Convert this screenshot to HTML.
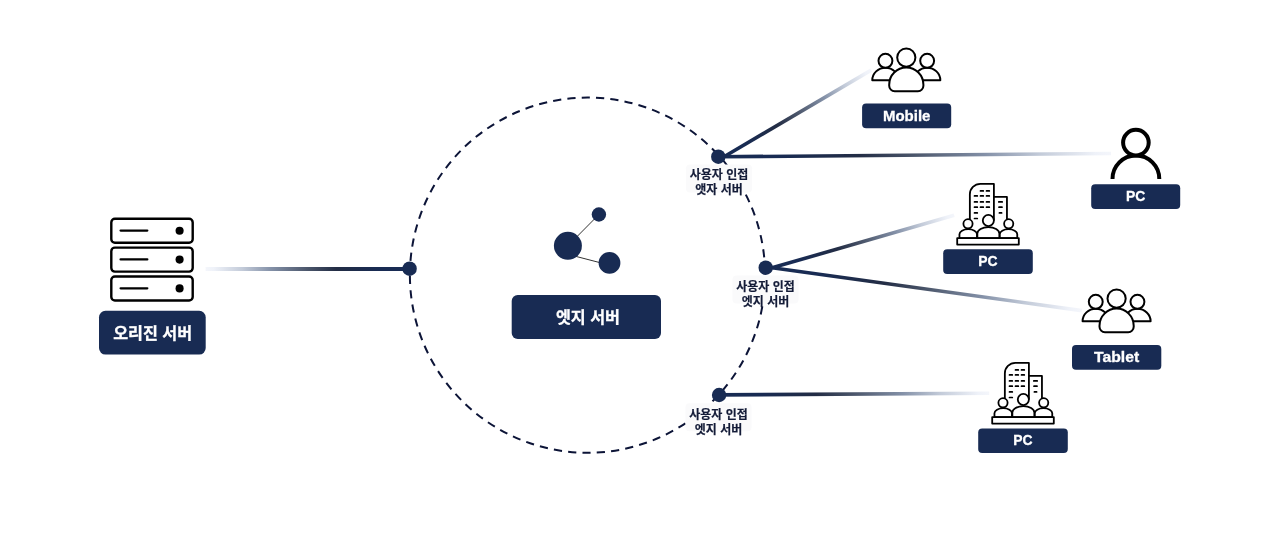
<!DOCTYPE html>
<html lang="ko">
<head>
<meta charset="utf-8">
<title>엣지 서버</title>
<style>
html,body{margin:0;padding:0;background:#fff;}
body{width:1280px;height:542px;overflow:hidden;font-family:"Liberation Sans", "Noto Sans CJK KR", sans-serif;}
svg{display:block;will-change:transform;}
</style>
</head>
<body>
<svg role="img" aria-label="오리진 서버 - 엣지 서버 - 사용자" width="1280" height="542" viewBox="0 0 1280 542" font-family='"Liberation Sans", "Noto Sans CJK KR", sans-serif'>
<defs><linearGradient id="g0" gradientUnits="userSpaceOnUse" x1="409.6" y1="269.0" x2="205.6" y2="269.0"><stop offset="0" stop-color="#182B53"/><stop offset="0.15" stop-color="#182B53"/><stop offset="0.36" stop-color="#232D45"/><stop offset="0.5" stop-color="#4B566B"/><stop offset="0.68" stop-color="#8491A8"/><stop offset="0.82" stop-color="#C3CBD9"/><stop offset="0.96" stop-color="#EFF2F9"/><stop offset="1" stop-color="#F4F6FB"/></linearGradient><linearGradient id="g1" gradientUnits="userSpaceOnUse" x1="724.4" y1="156.5" x2="871.2" y2="70.1"><stop offset="0" stop-color="#182B53"/><stop offset="0.15" stop-color="#182B53"/><stop offset="0.36" stop-color="#232D45"/><stop offset="0.5" stop-color="#4B566B"/><stop offset="0.68" stop-color="#8491A8"/><stop offset="0.82" stop-color="#C3CBD9"/><stop offset="0.96" stop-color="#EFF2F9"/><stop offset="1" stop-color="#F4F6FB"/></linearGradient><linearGradient id="g2" gradientUnits="userSpaceOnUse" x1="718.4" y1="156.8" x2="1111.0" y2="153.5"><stop offset="0" stop-color="#182B53"/><stop offset="0.15" stop-color="#182B53"/><stop offset="0.36" stop-color="#232D45"/><stop offset="0.5" stop-color="#4B566B"/><stop offset="0.68" stop-color="#8491A8"/><stop offset="0.82" stop-color="#C3CBD9"/><stop offset="0.96" stop-color="#EFF2F9"/><stop offset="1" stop-color="#F4F6FB"/></linearGradient><linearGradient id="g3" gradientUnits="userSpaceOnUse" x1="772.1" y1="267.8" x2="954.2" y2="215.3"><stop offset="0" stop-color="#182B53"/><stop offset="0.15" stop-color="#182B53"/><stop offset="0.36" stop-color="#232D45"/><stop offset="0.5" stop-color="#4B566B"/><stop offset="0.68" stop-color="#8491A8"/><stop offset="0.82" stop-color="#C3CBD9"/><stop offset="0.96" stop-color="#EFF2F9"/><stop offset="1" stop-color="#F4F6FB"/></linearGradient><linearGradient id="g4" gradientUnits="userSpaceOnUse" x1="772.1" y1="267.8" x2="1081.8" y2="310.6"><stop offset="0" stop-color="#182B53"/><stop offset="0.15" stop-color="#182B53"/><stop offset="0.36" stop-color="#232D45"/><stop offset="0.5" stop-color="#4B566B"/><stop offset="0.68" stop-color="#8491A8"/><stop offset="0.82" stop-color="#C3CBD9"/><stop offset="0.96" stop-color="#EFF2F9"/><stop offset="1" stop-color="#F4F6FB"/></linearGradient><linearGradient id="g5" gradientUnits="userSpaceOnUse" x1="719.1" y1="394.9" x2="989.2" y2="393.2"><stop offset="0" stop-color="#182B53"/><stop offset="0.15" stop-color="#182B53"/><stop offset="0.36" stop-color="#232D45"/><stop offset="0.5" stop-color="#4B566B"/><stop offset="0.68" stop-color="#8491A8"/><stop offset="0.82" stop-color="#C3CBD9"/><stop offset="0.96" stop-color="#EFF2F9"/><stop offset="1" stop-color="#F4F6FB"/></linearGradient></defs>
<rect width="1280" height="542" fill="#fff"/>
<path d="M409.9 275.15 A177.6 177.6 0 1 1 765.1 275.15 A177.6 177.6 0 1 1 409.9 275.15" fill="none" stroke="#0C1437" stroke-width="2" stroke-dasharray="8.2 6.17"/>
<line x1="409.6" y1="269.0" x2="205.6" y2="269.0" stroke="url(#g0)" stroke-width="3.9"/>
<line x1="724.4" y1="156.5" x2="871.2" y2="70.1" stroke="url(#g1)" stroke-width="3.6"/>
<line x1="718.4" y1="156.8" x2="1111.0" y2="153.5" stroke="url(#g2)" stroke-width="3.6"/>
<line x1="772.1" y1="267.8" x2="954.2" y2="215.3" stroke="url(#g3)" stroke-width="3.6"/>
<line x1="772.1" y1="267.8" x2="1081.8" y2="310.6" stroke="url(#g4)" stroke-width="3.6"/>
<line x1="719.1" y1="394.9" x2="989.2" y2="393.2" stroke="url(#g5)" stroke-width="3.6"/>
<circle cx="409.6" cy="268.7" r="7.2" fill="#182B53"/>
<circle cx="718.3" cy="156.7" r="7.2" fill="#182B53"/>
<circle cx="765.7" cy="267.7" r="7.2" fill="#182B53"/>
<circle cx="719.1" cy="395.0" r="7.2" fill="#182B53"/>
<rect x="686.0" y="164.4" width="66" height="28" rx="4" fill="#FAFAFB"/><text font-size="12" font-weight="700" fill="#141C38" stroke="#141C38" stroke-width="0.2" text-anchor="middle"><tspan x="719.0" y="178.9">사용자 인접</tspan><tspan x="719.0" y="193.9">앳자 서버</tspan></text>
<rect x="732.5" y="275.6" width="66" height="28" rx="4" fill="#FAFAFB"/><text font-size="12" font-weight="700" fill="#141C38" stroke="#141C38" stroke-width="0.2" text-anchor="middle"><tspan x="765.5" y="291.1">사용자 인접</tspan><tspan x="765.5" y="306.1">엣지 서버</tspan></text>
<rect x="685.5" y="403.2" width="66" height="28" rx="4" fill="#FAFAFB"/><text font-size="12" font-weight="700" fill="#141C38" stroke="#141C38" stroke-width="0.2" text-anchor="middle"><tspan x="718.5" y="418.7">사용자 인접</tspan><tspan x="718.5" y="433.7">엣지 서버</tspan></text>
<path d="M567.9 245.8 L598.9 214.5 M574 255.9 L604 263.7" stroke="#333" stroke-width="1" fill="none"/>
<circle cx="598.9" cy="214.5" r="7.2" fill="#182B53"/><circle cx="567.9" cy="245.8" r="14" fill="#182B53"/><circle cx="609.5" cy="262.9" r="10.9" fill="#182B53"/>
<rect x="511.7" y="295" width="149.3" height="44.1" rx="6" fill="#182B53"/><text x="587.95" y="323.0" font-size="16.2" font-weight="700" fill="#fff" stroke="#fff" stroke-width="0.3" text-anchor="middle">엣지 서버</text>
<rect x="111.3" y="218.8" width="81.4" height="24" rx="3.6" fill="#fff" stroke="#000" stroke-width="2.4"/>
<path d="M120.6 230.6 h26.7" stroke="#000" stroke-width="2.3" stroke-linecap="round"/>
<circle cx="179.6" cy="230.7" r="4.05" fill="#000"/>
<rect x="111.3" y="247.65" width="81.4" height="24" rx="3.6" fill="#fff" stroke="#000" stroke-width="2.4"/>
<path d="M120.6 259.4 h26.7" stroke="#000" stroke-width="2.3" stroke-linecap="round"/>
<circle cx="179.6" cy="259.6" r="4.05" fill="#000"/>
<rect x="111.3" y="276.5" width="81.4" height="24" rx="3.6" fill="#fff" stroke="#000" stroke-width="2.4"/>
<path d="M120.6 288.3 h26.7" stroke="#000" stroke-width="2.3" stroke-linecap="round"/>
<circle cx="179.6" cy="288.4" r="4.05" fill="#000"/>
<rect x="99" y="310.8" width="106.7" height="43.8" rx="6.5" fill="#182B53"/><text x="152.65" y="339.1" font-size="16.2" font-weight="700" fill="#fff" stroke="#fff" stroke-width="0.3" text-anchor="middle">오리진 서버</text>
<g fill="#fff" stroke="#000" stroke-width="2.0" stroke-linejoin="round">
<path d="M872.30 80.15 A13.15 12.4 0 0 1 898.60 80.15 Z"/>
<circle cx="885.45" cy="60.80" r="6.95"/>
<path d="M914.00 80.15 A13.15 12.4 0 0 1 940.30 80.15 Z"/>
<circle cx="927.15" cy="60.80" r="6.95"/>
<path d="M889.20 84.65 A17.1 17.1 0 0 1 923.40 84.65 V85.70 A5.5 5.5 0 0 1 917.90 91.20 H894.70 A5.5 5.5 0 0 1 889.20 85.70 Z"/>
<circle cx="906.30" cy="57.60" r="9.1"/>
</g>
<rect x="862.1" y="103.4" width="89.1" height="24.8" rx="4" fill="#182B53"/><text transform="translate(906.65 121.0) scale(1.0 0.98)" font-size="15" font-weight="700" fill="#fff" stroke="#fff" stroke-width="0.3" text-anchor="middle">Mobile</text>
<g fill="#fff" stroke="#000" stroke-width="2.0" stroke-linejoin="round">
<path d="M1082.60 321.15 A13.15 12.4 0 0 1 1108.90 321.15 Z"/>
<circle cx="1095.75" cy="301.80" r="6.95"/>
<path d="M1124.30 321.15 A13.15 12.4 0 0 1 1150.60 321.15 Z"/>
<circle cx="1137.45" cy="301.80" r="6.95"/>
<path d="M1099.50 325.65 A17.1 17.1 0 0 1 1133.70 325.65 V326.70 A5.5 5.5 0 0 1 1128.20 332.20 H1105.00 A5.5 5.5 0 0 1 1099.50 326.70 Z"/>
<circle cx="1116.60" cy="298.60" r="9.1"/>
</g>
<rect x="1072" y="345" width="89.3" height="24.8" rx="4" fill="#182B53"/><text transform="translate(1116.65 362.3) scale(1.05 0.98)" font-size="15" font-weight="700" fill="#fff" stroke="#fff" stroke-width="0.3" text-anchor="middle">Tablet</text>
<path d="M1112.5 179 A23.4 23.4 0 0 1 1159.3 179" fill="none" stroke="#000" stroke-width="4"/>
<circle cx="1135.9" cy="142.6" r="12.8" fill="#fff" stroke="#000" stroke-width="4"/>
<rect x="1091.2" y="184.3" width="89" height="24.8" rx="4" fill="#182B53"/><text transform="translate(1135.70 200.9) scale(0.93 0.98)" font-size="15" font-weight="700" fill="#fff" stroke="#fff" stroke-width="0.3" text-anchor="middle">PC</text>
<g transform="translate(0,0)" fill="#fff" stroke="#000" stroke-width="1.8" stroke-linejoin="round">
<path d="M993.9 196.9 H1006.95 V221.5"/>
<path d="M969.85 221.5 V194.4 A10.5 10.5 0 0 1 980.35 183.9 H993.9 V220.5"/>
<path d="M980.5 190.9h2.8 M986.5 190.9h2.8 M974.5 195.9h2.8 M980.5 195.9h2.8 M986.5 195.9h2.8 M974.5 201.9h2.8 M980.5 201.9h2.8 M986.5 201.9h2.8 M974.5 207.2h2.8 M980.5 207.2h2.8 M986.5 207.2h2.8 M974.5 212.9h2.8 M974.5 218.5h2.8 M998.8 201.9h3.4 M999.0 207.2h3.0 M999.4 212.9h2.2" fill="none" stroke-width="1.7" stroke-linecap="round"/>
<path d="M959.45 238.2 V234.3 A8.77 5.15 0 0 1 977.00 234.3 V238.2 Z"/>
<circle cx="968.0" cy="223.8" r="4.6"/>
<path d="M999.70 238.2 V234.3 A8.77 5.15 0 0 1 1017.25 234.3 V238.2 Z"/>
<circle cx="1008.7" cy="223.8" r="4.6"/>
<path d="M977.35 238.2 V233.6 A11 6.4 0 0 1 999.35 233.6 V238.2 Z"/>
<circle cx="988.35" cy="220.5" r="5.55"/>
<rect x="957.2" y="238.1" width="61.6" height="6.5"/>
</g>
<rect x="943.2" y="249.3" width="89.6" height="24.6" rx="4" fill="#182B53"/><text transform="translate(988.00 265.9) scale(0.93 0.98)" font-size="15" font-weight="700" fill="#fff" stroke="#fff" stroke-width="0.3" text-anchor="middle">PC</text>
<g transform="translate(35,179)" fill="#fff" stroke="#000" stroke-width="1.8" stroke-linejoin="round">
<path d="M993.9 196.9 H1006.95 V221.5"/>
<path d="M969.85 221.5 V194.4 A10.5 10.5 0 0 1 980.35 183.9 H993.9 V220.5"/>
<path d="M980.5 190.9h2.8 M986.5 190.9h2.8 M974.5 195.9h2.8 M980.5 195.9h2.8 M986.5 195.9h2.8 M974.5 201.9h2.8 M980.5 201.9h2.8 M986.5 201.9h2.8 M974.5 207.2h2.8 M980.5 207.2h2.8 M986.5 207.2h2.8 M974.5 212.9h2.8 M974.5 218.5h2.8 M998.8 201.9h3.4 M999.0 207.2h3.0 M999.4 212.9h2.2" fill="none" stroke-width="1.7" stroke-linecap="round"/>
<path d="M959.45 238.2 V234.3 A8.77 5.15 0 0 1 977.00 234.3 V238.2 Z"/>
<circle cx="968.0" cy="223.8" r="4.6"/>
<path d="M999.70 238.2 V234.3 A8.77 5.15 0 0 1 1017.25 234.3 V238.2 Z"/>
<circle cx="1008.7" cy="223.8" r="4.6"/>
<path d="M977.35 238.2 V233.6 A11 6.4 0 0 1 999.35 233.6 V238.2 Z"/>
<circle cx="988.35" cy="220.5" r="5.55"/>
<rect x="957.2" y="238.1" width="61.6" height="6.5"/>
</g>
<rect x="978.2" y="428.6" width="89.6" height="24.4" rx="4" fill="#182B53"/><text transform="translate(1023.00 445.2) scale(0.93 0.98)" font-size="15" font-weight="700" fill="#fff" stroke="#fff" stroke-width="0.3" text-anchor="middle">PC</text>
</svg>
</body>
</html>
